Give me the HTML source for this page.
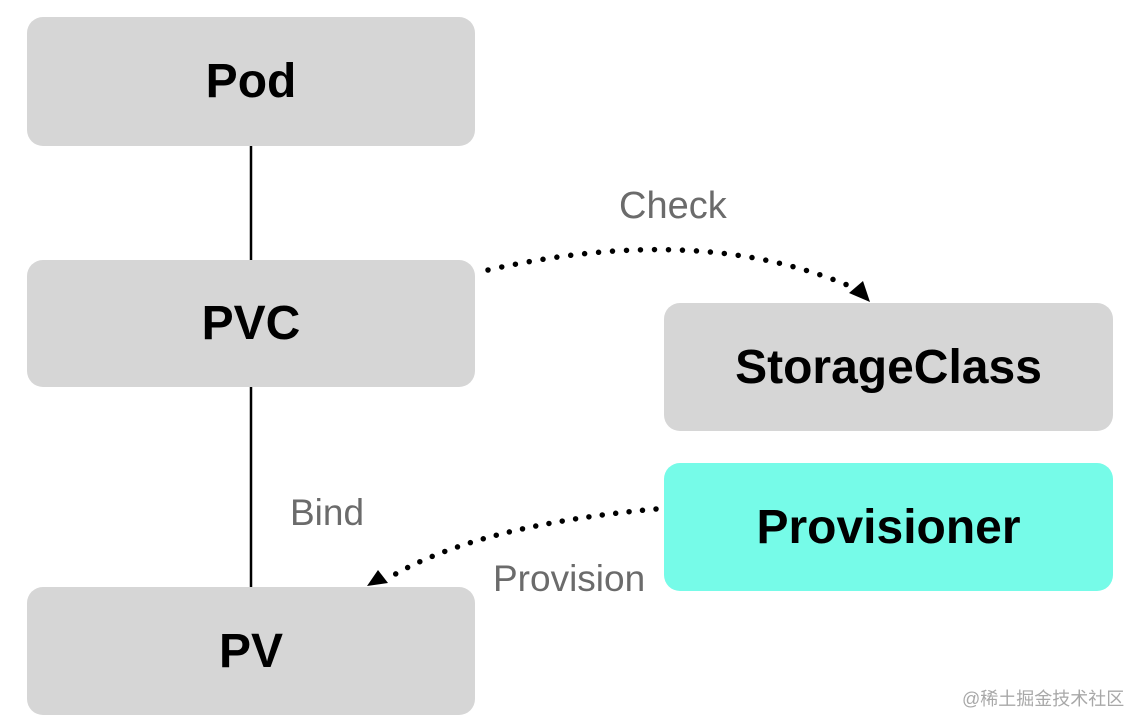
<!DOCTYPE html>
<html><head><meta charset="utf-8"><style>
body{margin:0;width:1146px;height:728px;background:#fff;position:relative;overflow:hidden;font-family:"Liberation Sans","Noto Sans CJK SC",sans-serif}
.b{position:absolute;background:#d6d6d6;border-radius:16px;display:flex;align-items:center;justify-content:center;font-weight:bold;font-size:48px;color:#000}
.l{position:absolute;font-size:37px;color:#6b6b6b}
</style></head><body>
<svg width="1146" height="728" style="position:absolute;left:0;top:0">
<line x1="251" y1="146" x2="251" y2="262" stroke="#000" stroke-width="2.5"/>
<line x1="251" y1="386" x2="251" y2="589" stroke="#000" stroke-width="2.5"/>
<path d="M488,270 Q700,222 852,287" fill="none" stroke="#000" stroke-width="5.5" stroke-linecap="round" stroke-dasharray="0 14"/>
<polygon points="870,302 849,293 863,281" fill="#000"/>
<path d="M656,509 Q480,525 392,576" fill="none" stroke="#000" stroke-width="5.5" stroke-linecap="round" stroke-dasharray="0 13.5"/>
<polygon points="367,586 378,570 388,583" fill="#000"/>
</svg>
<div class="b" style="left:27px;top:17px;width:448px;height:129px">Pod</div>
<div class="b" style="left:27px;top:260px;width:448px;height:127px">PVC</div>
<div class="b" style="left:27px;top:587px;width:448px;height:128px">PV</div>
<div class="b" style="left:664px;top:303px;width:449px;height:128px">StorageClass</div>
<div class="b" style="left:664px;top:463px;width:449px;height:128px;background:#76fbe8">Provisioner</div>
<div class="l" style="left:619px;top:185px;font-size:38px">Check</div>
<div class="l" style="left:290px;top:492px;font-size:37px">Bind</div>
<div class="l" style="left:493px;top:558px">Provision</div>
<div style="position:absolute;left:962px;top:685px;font-size:18px;color:#a8a8a8">@稀土掘金技术社区</div>
</body></html>
